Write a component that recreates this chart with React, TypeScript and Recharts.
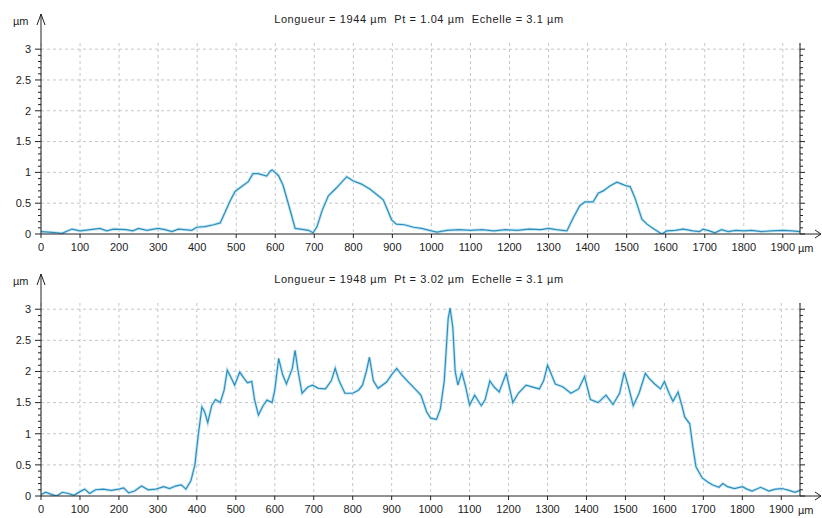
import { LineChart, Line, XAxis, YAxis, CartesianGrid, ReferenceLine } from 'recharts';

// profil 1 : Longueur 1944 µm
const TOP_POS = [
  0, 20, 41, 54, 79, 100, 126, 151, 168, 186, 219, 235, 250, 271, 300, 318, 335, 352, 386, 399,
  420, 442, 459, 484, 497, 514, 531, 543, 556, 578, 587, 592, 608, 620, 638, 651, 664, 685, 697, 707,
  720, 736, 757, 783, 800, 821, 842, 868, 877, 898, 910, 931, 954, 975, 1000, 1014, 1040, 1070, 1100, 1130,
  1160, 1190, 1220, 1250, 1280, 1300, 1320, 1347, 1363, 1380, 1393, 1414, 1427, 1440, 1457, 1475, 1488, 1500, 1509, 1521,
  1539, 1552, 1568, 1590, 1603, 1625, 1645, 1670, 1687, 1696, 1712, 1726, 1743, 1760, 1780, 1800, 1820, 1845, 1870, 1900,
  1925, 1944,
];
const TOP_Z = [
  0.04, 0.03, 0.02, 0.01, 0.08, 0.05, 0.07, 0.09, 0.05, 0.08, 0.07, 0.05, 0.09, 0.06, 0.09, 0.07, 0.04, 0.08, 0.06, 0.11,
  0.12, 0.15, 0.18, 0.53, 0.69, 0.77, 0.85, 0.98, 0.98, 0.94, 1.02, 1.04, 0.95, 0.79, 0.39, 0.09, 0.08, 0.06, 0.02, 0.12,
  0.38, 0.62, 0.75, 0.93, 0.86, 0.81, 0.73, 0.6, 0.55, 0.23, 0.16, 0.15, 0.11, 0.09, 0.05, 0.03, 0.06, 0.07, 0.06, 0.07,
  0.05, 0.07, 0.06, 0.08, 0.07, 0.09, 0.07, 0.05, 0.26, 0.46, 0.52, 0.52, 0.66, 0.7, 0.78, 0.84, 0.81, 0.78, 0.77, 0.59,
  0.24, 0.16, 0.09, 0.0, 0.05, 0.06, 0.08, 0.05, 0.04, 0.08, 0.05, 0.02, 0.07, 0.04, 0.06, 0.05, 0.06, 0.04, 0.05, 0.06,
  0.05, 0.04,
];

// profil 2 : Longueur 1948 µm
const BOTTOM_POS = [
  0, 12, 25, 40, 55, 70, 85, 100, 112, 125, 140, 160, 180, 200, 212, 225, 240, 258, 275, 295,
  315, 330, 345, 360, 372, 385, 395, 403, 413, 420, 428, 438, 448, 460, 470, 478, 488, 497, 510, 522,
  530, 541, 548, 558, 570, 580, 593, 600, 610, 620, 630, 645, 652, 660, 670, 685, 697, 712, 730, 745,
  755, 765, 780, 800, 815, 825, 835, 843, 853, 865, 887, 900, 913, 925, 940, 960, 975, 990, 1000, 1015,
  1025, 1035, 1045, 1050, 1057, 1063, 1070, 1080, 1090, 1100, 1113, 1130, 1140, 1152, 1163, 1176, 1194, 1211, 1225, 1245,
  1262, 1279, 1290, 1300, 1310, 1320, 1340, 1360, 1380, 1395, 1410, 1430, 1450, 1468, 1485, 1497, 1508, 1520, 1535, 1551,
  1562, 1575, 1590, 1600, 1612, 1622, 1635, 1645, 1652, 1665, 1673, 1681, 1697, 1712, 1723, 1740, 1750, 1762, 1780, 1800,
  1812, 1825, 1847, 1868, 1885, 1902, 1920, 1935, 1948,
];
const BOTTOM_Z = [
  0.02, 0.06, 0.03, 0.0, 0.06, 0.04, 0.01, 0.07, 0.11, 0.04, 0.1, 0.11, 0.09, 0.11, 0.13, 0.05, 0.08, 0.16, 0.1, 0.11,
  0.15, 0.12, 0.16, 0.18, 0.11, 0.25, 0.5, 0.95, 1.43, 1.35, 1.18, 1.45, 1.55, 1.5, 1.7, 2.02, 1.9, 1.78, 1.99, 1.88,
  1.82, 1.84, 1.55, 1.3, 1.45, 1.54, 1.5, 1.7, 2.21, 1.95, 1.8, 2.05, 2.34, 2.0, 1.65, 1.75, 1.78, 1.73, 1.72, 1.85,
  2.05, 1.85, 1.65, 1.65, 1.7, 1.78, 2.0, 2.23, 1.85, 1.73, 1.83, 1.95, 2.05, 1.95, 1.85, 1.72, 1.62, 1.35, 1.25, 1.23,
  1.4, 1.85, 2.85, 3.02, 2.7, 2.0, 1.78, 1.99, 1.75, 1.46, 1.62, 1.45, 1.55, 1.85, 1.75, 1.67, 1.97, 1.5, 1.65, 1.78,
  1.75, 1.72, 1.85, 2.1, 1.95, 1.8, 1.75, 1.65, 1.72, 1.92, 1.55, 1.5, 1.62, 1.47, 1.65, 1.99, 1.75, 1.45, 1.65, 1.97,
  1.88, 1.8, 1.72, 1.84, 1.65, 1.52, 1.67, 1.45, 1.27, 1.16, 0.79, 0.47, 0.29, 0.22, 0.18, 0.14, 0.2, 0.15, 0.12, 0.15,
  0.11, 0.08, 0.14, 0.08, 0.11, 0.12, 0.09, 0.06, 0.09,
];

const X_TICKS = [0, 100, 200, 300, 400, 500, 600, 700, 800, 900, 1000, 1100, 1200, 1300, 1400, 1500, 1600, 1700, 1800, 1900];
const Y_LABELS = [0, 0.5, 1, 1.5, 2, 2.5, 3];
const Y_GRID = [0.5, 1, 1.5, 2, 2.5, 3];
const Y_MINOR = [
  0, 0.1, 0.2, 0.3, 0.4, 0.5, 0.6, 0.7, 0.8, 0.9, 1, 1.1, 1.2, 1.3, 1.4, 1.5,
  1.6, 1.7, 1.8, 1.9, 2, 2.1, 2.2, 2.3, 2.4, 2.5, 2.6, 2.7, 2.8, 2.9, 3,
];
const SCALE = 3.1;
const TITLES = [
  'Longueur = 1944 µm  Pt = 1.04 µm  Echelle = 3.1 µm',
  'Longueur = 1948 µm  Pt = 3.02 µm  Echelle = 3.1 µm',
];
const LENGTHS = [1944, 1948];

const W = 822;
const AXIS = '#222';
const GRID = '#c6c6c6';

const LeftTick = (props: any) => {
  const { x, y, payload } = props;
  const major = Y_LABELS.includes(payload.value);
  return (
    <g>
      <line x1={x - (major ? 6 : 3)} x2={x} y1={y} y2={y} stroke={AXIS} />
      {major && (
        <text x={x - 10} y={y} dy="0.35em" textAnchor="end" fontSize={11} fill="#222">
          {payload.value}
        </text>
      )}
    </g>
  );
};

const RightTick = (props: any) => {
  const { x, y, payload } = props;
  const major = Y_LABELS.includes(payload.value);
  return <line x1={x} x2={x + (major ? 5 : 3)} y1={y} y2={y} stroke={AXIS} />;
};

function Profile({ pos, z, length, title, chartHeight, plotTop, axisHeight }: any) {
  const data = pos.map((x: number, i: number) => ({ x, z: z[i] }));
  const plotBottom = chartHeight - axisHeight;
  const plotRight = W - 22;
  return (
    <div style={{ position: 'relative', width: W, height: chartHeight }}>
      <LineChart width={W} height={chartHeight} data={data} margin={{ top: plotTop, right: 0, bottom: 0, left: 0 }}>
        <CartesianGrid horizontal={false} stroke={GRID} strokeDasharray="3 3" />
        {Y_GRID.map((v) => (
          <ReferenceLine key={v} y={v} stroke={GRID} strokeDasharray="3 3" />
        ))}
        <XAxis
          dataKey="x"
          type="number"
          domain={[0, length]}
          allowDataOverflow
          ticks={X_TICKS}
          interval={0}
          height={axisHeight}
          tickSize={4}
          tickMargin={5}
          axisLine={{ stroke: AXIS }}
          tickLine={{ stroke: AXIS }}
          tick={{ fontSize: 11, fill: '#222' }}
        />
        <XAxis
          xAxisId="top"
          orientation="top"
          dataKey="x"
          type="number"
          domain={[0, length]}
          allowDataOverflow
          ticks={X_TICKS}
          interval={0}
          height={0}
          tickSize={3}
          axisLine={{ stroke: '#333', strokeWidth: 2 }}
          tickLine={{ stroke: AXIS }}
          tick={() => null}
        />
        <YAxis
          type="number"
          domain={[0, SCALE]}
          allowDataOverflow
          ticks={Y_MINOR}
          interval={0}
          width={41}
          tickSize={0}
          tickMargin={0}
          tickLine={false}
          axisLine={{ stroke: AXIS }}
          tick={LeftTick}
        />
        <YAxis
          yAxisId="right"
          orientation="right"
          type="number"
          domain={[0, SCALE]}
          allowDataOverflow
          ticks={Y_MINOR}
          interval={0}
          width={22}
          tickSize={0}
          tickMargin={0}
          tickLine={false}
          axisLine={{ stroke: AXIS }}
          tick={RightTick}
        />
        <Line type="linear" dataKey="z" stroke="#c4e8f3" strokeWidth={3} dot={false} isAnimationActive={false} />
        <Line type="linear" dataKey="z" stroke="#2f8dbd" strokeWidth={1.2} dot={false} isAnimationActive={false} />
      </LineChart>
      <svg
        width={W}
        height={chartHeight}
        style={{ position: 'absolute', left: 0, top: 0, pointerEvents: 'none' }}
      >
        <line x1={41} y1={plotTop - 29} x2={41} y2={plotTop} stroke={AXIS} />
        <polyline
          points={`37,${plotTop - 18} 41,${plotTop - 29} 45,${plotTop - 18}`}
          fill="none"
          stroke={AXIS}
        />
        <text x={13} y={plotTop - 22} dy="0.35em" fontSize={11} fill="#222">
          µm
        </text>
        <text
          x={419}
          y={19}
          dy="0.35em"
          textAnchor="middle"
          fontSize={11}
          fill="#222"
          letterSpacing={0.6}
          style={{ whiteSpace: 'pre' }}
        >
          {title}
        </text>
        <line x1={plotRight} y1={plotBottom} x2={821} y2={plotBottom} stroke={AXIS} />
        <polyline
          points={`815,${plotBottom - 4} 821,${plotBottom} 815,${plotBottom + 4}`}
          fill="none"
          stroke={AXIS}
        />
        <text x={798} y={plotBottom + 14} dy="0.35em" fontSize={11} fill="#222">
          µm
        </text>
      </svg>
    </div>
  );
}

export default function App() {
  return (
    <div
      style={{
        position: 'absolute',
        left: 0,
        top: 0,
        width: W,
        height: 518,
        background: '#fff',
        fontFamily: '"Liberation Sans", Arial, sans-serif',
      }}
    >
      <Profile pos={TOP_POS} z={TOP_Z} length={LENGTHS[0]} title={TITLES[0]} chartHeight={260} plotTop={43} axisHeight={26} />
      <Profile pos={BOTTOM_POS} z={BOTTOM_Z} length={LENGTHS[1]} title={TITLES[1]} chartHeight={258} plotTop={43} axisHeight={22} />
    </div>
  );
}
